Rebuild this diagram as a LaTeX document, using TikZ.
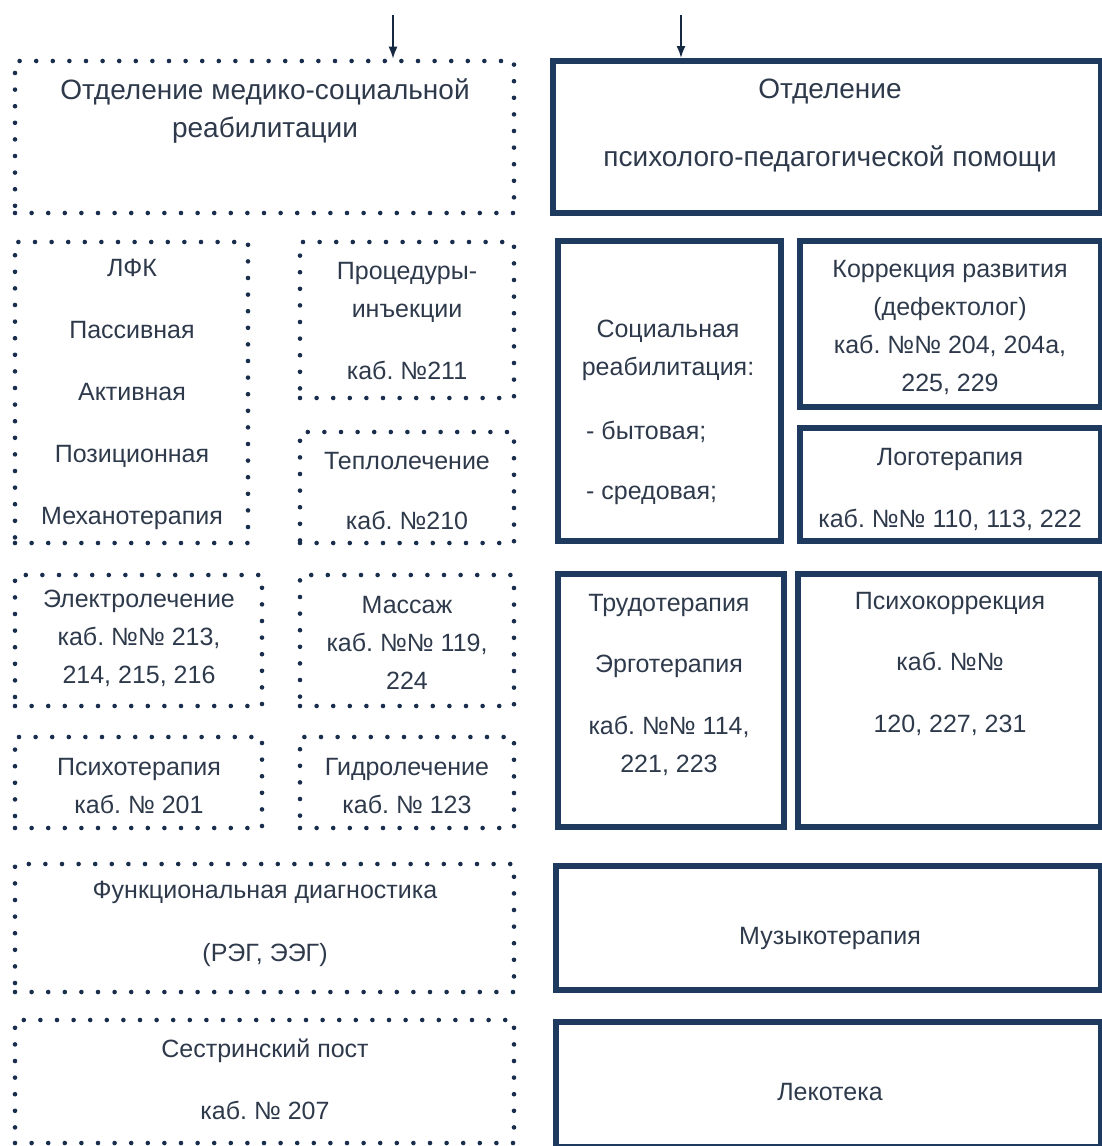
\documentclass[tikz,border=0pt]{standalone}
\usepackage{fontspec}
\setmainfont{Liberation Sans}
\usetikzlibrary{arrows.meta}
\definecolor{navy}{HTML}{1F3A5F}
\definecolor{ink}{HTML}{2E3A4B}
\newcommand{\cell}[6]{\node[#1, minimum width={#4-#2}, minimum height={#5-#3}] (#6) at ({(#2+#4)/2},{(#3+#5)/2}) {};}
\tikzset{
  dotbox/.style={draw=navy!80!black, line width=4.6pt, line cap=round, dash pattern=on 0pt off 16.6pt, inner sep=0pt},
  solidbox/.style={draw=navy, line width=6pt, inner sep=0pt},
  txt/.style={text=ink, align=center, inner sep=0pt, font=\fontsize{25}{38}\selectfont},
  head/.style={txt, font=\fontsize{28}{38}\selectfont},
  arr/.style={-{Latex[length=12pt,width=9pt]}, line width=1.7pt, draw=navy!70!black}
}
\frenchspacing
\begin{document}
\begin{tikzpicture}[x=1pt, y=-1pt]
\useasboundingbox (0,0) rectangle (1102,1146);

% left department, dotted
\foreach \n/\xa/\ya/\xb/\yb in {mcr/15/61/514/213, lfk/15/242/248/543, proc/300/242/514/398,
  heat/300/432/514/543, elec/15/575/262/706, mass/300/575/514/706, psyt/15/737/262/828,
  hydr/300/737/514/828, diag/15/864/514/992, nurse/15/1020/514/1143}
  {\cell{dotbox}{\xa}{\ya}{\xb}{\yb}{\n}}

% right department, solid
\foreach \n/\xa/\ya/\xb/\yb in {ppp/553/61/1101/213, soc/558/241/781/541, corr/800/241/1101/407,
  logo/800/428/1101/541, work/558/574/784/827, pcor/798/574/1101/827, music/556/866/1101/990,
  toys/556/1022/1101/1147}
  {\cell{solidbox}{\xa}{\ya}{\xb}{\yb}{\n}}

\coordinate (inL) at (393,15);
\coordinate (inR) at (681,15);
\draw[arr] (inL) -- (inL |- mcr.north);
\draw[arr] (inR) -- (inR |- ppp.north);

\node[head] (tmcr) at (265,111) {Отделение медико-социальной\\реабилитации};
\node[head] (tppp) at (830,126) {Отделение\\[30pt]психолого-педагогической помощи};

\node[txt] (tlfk) at (132,394) {ЛФК\\[24pt]Пассивная\\[24pt]Активная\\[24pt]Позиционная\\[24pt]Механотерапия};
\node[txt] (tproc) at (407,321) {Процедуры-\\инъекции\\[24pt]каб. №211};
\node[txt] (theat) at (407,491) {Теплолечение\\[22pt]каб. №210};
\node[txt] (telec) at (139,638) {Электролечение\\каб. №№ 213,\\214, 215, 216};
\node[txt] (tmass) at (407,643) {Массаж\\каб. №№ 119,\\224};
\node[txt] (tpsyt) at (139,786) {Психотерапия\\каб. № 201};
\node[txt] (thydr) at (407,786) {Гидролечение\\каб. № 123};
\node[txt] (tdiag) at (265,924) {Функциональная диагностика\\[25pt](РЭГ, ЭЭГ)};
\node[txt] (tnurse) at (265,1079) {Сестринский пост\\[24pt]каб. № 207};

\node[txt] (tsoc) at (668,350) {Социальная\\реабилитация:};
\node[txt, align=left, anchor=west] (tsoc2) at (586,463) {- бытовая;\\[22pt]- средовая;};
\node[txt] (tcorr) at (950,327) {Коррекция развития\\(дефектолог)\\каб. №№ 204, 204а,\\225, 229};
\node[txt] (tlogo) at (950,489) {Логотерапия\\[24pt]каб. №№ 110, 113, 222};
\node[txt] (twork) at (669,685) {Трудотерапия\\[23pt]Эрготерапия\\[24pt]каб. №№ 114,\\221, 223};
\node[txt] (tpcor) at (950,664) {Психокоррекция\\[23pt]каб. №№\\[24pt]120, 227, 231};
\node[txt] (tmusic) at (830,938) {Музыкотерапия};
\node[txt] (ttoys) at (830,1092) {Лекотека};
\end{tikzpicture}
\end{document}
